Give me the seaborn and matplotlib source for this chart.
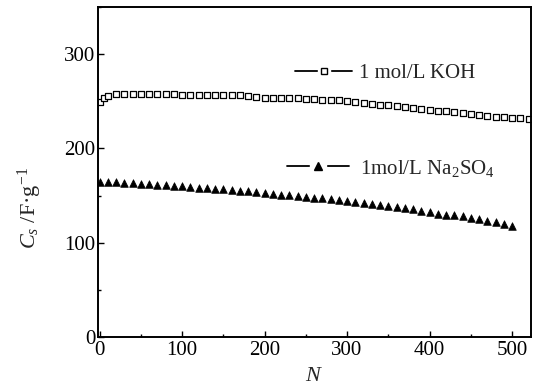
import matplotlib
matplotlib.use("Agg")
import matplotlib.pyplot as plt
import seaborn as sns
import pandas as pd
from matplotlib.lines import Line2D
from matplotlib.legend_handler import HandlerTuple
from matplotlib.ticker import MultipleLocator

sns.set_style("ticks")
plt.rcParams['font.family'] = ['Liberation Serif', 'DejaVu Serif']
plt.rcParams['mathtext.fontset'] = 'custom'
plt.rcParams['mathtext.rm'] = 'Liberation Serif'
plt.rcParams['mathtext.it'] = 'Liberation Serif:italic'

koh_n = [0, 5, 10, 20, 30, 40, 50, 60, 70, 80, 90, 100, 110, 120, 130, 140, 150, 160, 170, 180,
         190, 200, 210, 220, 230, 240, 250, 260, 270, 280, 290, 300, 310, 320, 330, 340, 350,
         360, 370, 380, 390, 400, 410, 420, 430, 440, 450, 460, 470, 480, 490, 500, 510, 520]
koh_cs = [249, 253, 256, 258, 258, 258, 258, 258, 258, 258, 258, 257, 257, 257, 257, 257, 257, 257, 257, 256,
          255, 254, 254, 254, 254, 253, 252, 252, 251, 251, 251, 250, 249, 248, 247, 246, 246,
          245, 244, 243, 242, 241, 240, 240, 239, 238, 237, 235, 234, 233, 233, 232, 232, 231]

na_n = [0, 10, 20, 30, 40, 50, 60, 70, 80, 90, 100, 110, 120, 130, 140, 150, 160, 170, 180, 190,
        200, 210, 220, 230, 240, 250, 260, 270, 280, 290, 300, 310, 320, 330, 340, 350, 360,
        370, 380, 390, 400, 410, 420, 430, 440, 450, 460, 470, 480, 490, 500]
na_cs = [165, 164, 164, 163, 163, 162, 162, 161, 161, 160, 160,
         159, 158, 158, 157, 157, 156, 155, 155, 154, 153,
         152, 151, 151, 150, 149, 148, 147, 146, 145, 144,
         143, 142, 141, 140, 139, 138, 137, 136, 134, 133,
         131, 130, 129, 128, 126, 125, 123, 122, 120, 118]

label_koh = "1 mol/L KOH"
label_na = "1mol/L Na$_2$SO$_4$"

fig = plt.figure(figsize=(5.41, 3.88), dpi=100)
ax = fig.add_axes([0.181, 0.131, 0.8005, 0.851])

df_koh = pd.DataFrame({"N": koh_n, "Cs": koh_cs})
df_na = pd.DataFrame({"N": na_n, "Cs": na_cs})

sns.scatterplot(data=df_koh, x="N", y="Cs", ax=ax, marker="s", s=14,
                facecolor="white", edgecolor="black", linewidth=0.9, legend=False)
sns.scatterplot(data=df_na, x="N", y="Cs", ax=ax, marker="^", s=30,
                color="black", edgecolor="black", linewidth=0.5, legend=False)

ax.set_xlim(-2, 523)
ax.set_ylim(0, 350)
ax.set_xticks([0, 100, 200, 300, 400, 500])
ax.set_yticks([0, 100, 200, 300])
ax.xaxis.set_minor_locator(MultipleLocator(50))
ax.yaxis.set_minor_locator(MultipleLocator(50))
ax.tick_params(which="both", direction="in", labelsize=15, width=1.0, colors="black")
ax.tick_params(which="major", length=4)
ax.tick_params(which="minor", length=2)
ax.tick_params(axis="x", pad=3)
ax.tick_params(axis="y", pad=2)
for sp in ax.spines.values():
    sp.set_linewidth(1.4)
    sp.set_color("black")

ax.set_xlabel("$N$", fontsize=16, labelpad=5)
ax.set_ylabel("$C_s$ /F·g$^{\\mathregular{-1}}$", fontsize=16)
ax.yaxis.set_label_coords(-0.125, 0.39)


def make_handle(marker, ms, face):
    line = Line2D([], [], color="black", lw=1.3)
    gap = Line2D([], [], linestyle="none", marker="s", markersize=ms + 5,
                 markerfacecolor="white", markeredgecolor="white")
    mk = Line2D([], [], linestyle="none", marker=marker, markersize=ms,
                markerfacecolor=face, markeredgecolor="black", markeredgewidth=1.0)
    return (line, gap, mk)


h1 = make_handle("s", 4, "white")
h2 = make_handle("^", 6, "black")
leg1 = ax.legend([h1], [label_koh], loc="center left", bbox_to_anchor=(0.455, 0.80),
                 frameon=False, fontsize=15, handlelength=2.75, handletextpad=0.3,
                 borderaxespad=0, borderpad=0,
                 handler_map={tuple: HandlerTuple(ndivide=1, pad=0)})
ax.add_artist(leg1)
ax.legend([h2], [label_na], loc="center left", bbox_to_anchor=(0.436, 0.512),
          frameon=False, fontsize=15, handlelength=3.0, handletextpad=0.5,
          borderaxespad=0, borderpad=0,
          handler_map={tuple: HandlerTuple(ndivide=1, pad=0)})

fig.savefig("out.png", dpi=100)
